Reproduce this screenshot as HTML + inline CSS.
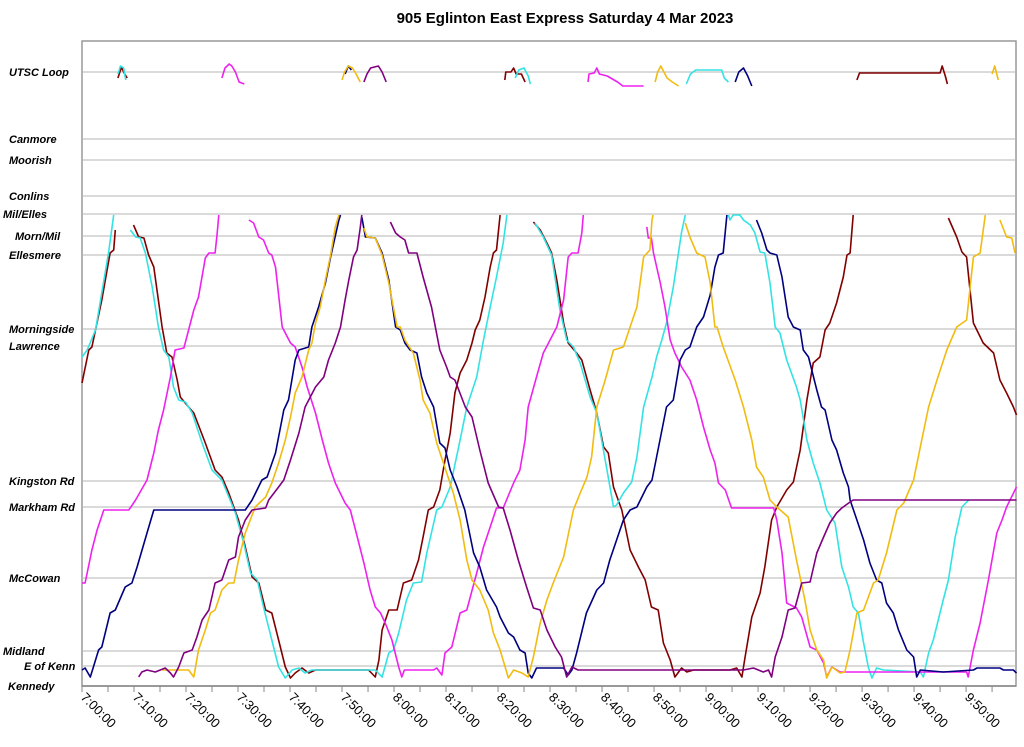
<!DOCTYPE html>
<html><head><meta charset="utf-8"><style>
body{margin:0;background:#fff;}
svg{display:block;font-family:"Liberation Sans",Arial,sans-serif;}
.stop{font-size:11px;font-weight:bold;font-style:italic;fill:#000;}
.tick{font-size:13px;fill:#000;}
</style></head><body>
<svg id="chart" width="1024" height="747">
<text x="565" y="23" text-anchor="middle" font-size="15" font-weight="bold">905 Eglinton East Express Saturday 4 Mar 2023</text>
<g id="grid"></g>
<g id="series"></g>
<g id="axes"></g>
</svg>
<script>
const stopNames=["UTSC Loop","Canmore","Moorish","Conlins","Mil/Elles","Morn/Mil","Ellesmere","Morningside","Lawrence","Kingston Rd","Markham Rd","McCowan","Midland","E of Kenn","Kennedy"];
const stopDist=[614,547,526,490,472,450,431,357,340,205,179,108,35,20,0];
const stopLabelX=[9,9,9,9,3,15,9,9,9,9,9,9,3,24,8];
const tickLabels=["7:00:00","7:10:00","7:20:00","7:30:00","7:40:00","7:50:00","8:00:00","8:10:00","8:20:00","8:30:00","8:40:00","8:50:00","9:00:00","9:10:00","9:20:00","9:30:00","9:40:00","9:50:00"];
const busColors=["#800000","#33e3e3","#ee22ee","#000080","#f2bb10","#800080"];

const maroon=[[0,303],[1.3,336],[1.9,339],[2.6,356],[3.8,386],[5.4,433],[6.1,436],[6.4,456],null,
[6.9,608],[7.6,619],[8.1,613],[8.7,608],null,
[9.9,461],[10.9,449],[11.9,448],[12.8,431],[13.8,419],[15.4,359],[16.3,333],[17.3,329],[18.3,306],[18.9,289],[20.5,279],[21.5,273],[23.7,243],[25.6,216],[26.9,209],[28.2,193],[30.1,166],[31.4,139],[32.7,109],[34,103],[35.3,76],[36.5,73],[37.8,46],[39.1,19],[40.1,8],[41,13],[42.3,18],[43.6,13],[44.9,16],[55.1,16],[56.4,9],[57.1,26],[57.7,56],[59,76],[60.6,76],[61.8,103],[63.4,106],[64.7,126],[65.6,149],[66.6,176],[67.6,179],[68.8,196],[69.8,226],[70.8,253],[71.7,293],[72.7,313],[74,326],[75,343],[75.6,356],[76.5,366],[77.5,389],[78.5,419],[79.1,433],[79.7,436],[80.4,471],null,
[81.3,606],[81.5,614],[82.5,614],[83,618],[83.5,612],[84.5,612],[85.2,604],null,
[86.8,464],[88.1,456],[89.4,443],[90.3,433],[91.3,406],[92.6,363],[93.5,343],[95.1,333],[96.1,326],[97.7,296],[99,273],[100.3,239],[101.2,233],[102.2,199],[103.8,176],[105.4,136],[107,119],[108.3,106],[109.5,79],[110.8,76],[111.8,43],[113.1,26],[114,9],[115.3,18],[116.3,14],[117.6,16],[124.6,16],[125.9,18],[126.9,9],[127.5,29],[128.8,69],[130.4,93],[131.3,119],[132.6,166],[133.6,179],[135.5,196],[136.8,204],[138.1,236],[139.4,286],[140.6,323],[141.9,329],[142.9,356],[143.8,363],[145.1,383],[146.4,409],[147.1,431],[147.7,433],[148.3,471],null,
[149,606],[149.5,613],[165,613],[165.4,620],[166,610],[166.4,602],null,
[166.6,468],[168.2,449],[169.2,434],[170.1,429],[171.4,363],[173.3,343],[175.3,333],[176.5,306],[177.8,293],[179.1,279],[179.7,271]];

const cyan=[[0,329],[1,336],[2.6,356],[5.1,433],[6.1,471],null,
[6.9,612],[7.4,620],[8,618],[8.4,606],null,
[9.3,456],[10.3,449],[11.2,448],[12.2,433],[13.5,399],[14.7,359],[15.7,336],[16.7,329],[17.6,299],[18.6,286],[19.9,284],[21.2,273],[23.1,243],[25,216],[26.9,206],[29.5,173],[31.1,143],[32.4,113],[33.7,106],[34.9,79],[36.5,46],[37.8,19],[39.1,8],[40.4,16],[41.7,18],[42.9,13],[44.2,16],[56.4,16],[57.7,9],[59,33],[59.9,36],[60.9,53],[62.4,86],[63.7,103],[65.3,104],[66.3,133],[68.2,176],[69.2,179],[70.8,199],[72.7,246],[74,279],[75.9,309],[77.2,346],[78.5,379],[79.7,409],[81,443],[81.7,471],null,
[83.3,608],[84,616],[85,618],[85.8,610],[86.2,602],null,
[87.1,463],[88.7,449],[90.3,431],[91.9,376],[93.2,346],[94.5,339],[95.8,323],[97.7,289],[99,273],[100.6,226],[102.2,179],[102.8,181],[104.1,193],[105.7,204],[106.7,229],[108,279],[109.6,309],[110.5,329],[111.5,346],[112.4,363],[113.7,399],[115.3,454],[116,471],null,
[116.2,602],[117,612],[118,616],[123,616],[123.5,608],[124.3,604],null,
[124.3,471],[124.6,466],[125.2,471],[126.5,471],[127.2,466],[128.5,461],[129.4,453],[130.4,434],[131.3,433],[132.3,403],[133.3,359],[134.2,353],[135.5,326],[137.4,299],[138.1,286],[139.4,246],[140.6,223],[141.9,203],[143.2,176],[144.8,163],[146.1,119],[147.4,99],[148.3,79],[149.3,73],[150.3,43],[151.2,19],[151.9,8],[152.8,18],[154.1,16],[161.2,14],[161.8,9],[162.8,33],[163.7,46],[165.6,86],[166.6,106],[167.9,149],[169.2,179],[170.5,186]];

const magenta=[[0,103],[0.6,103],[1.9,136],[2.9,156],[4.2,176],[9,176],[10.3,186],[12.5,206],[13.8,233],[14.7,256],[15.7,276],[17,309],[17.9,336],[19.6,338],[20.5,356],[21.5,376],[22.4,389],[23.7,428],[24.4,433],[25.6,433],[26,453],[26.3,471],null,
[26.9,608],[27.5,618],[28.3,622],[28.8,620],[29.5,614],[30.2,604],[31.2,602],null,
[32.1,466],[33,463],[34,449],[34.9,446],[35.9,433],[36.5,431],[37.2,419],[38.5,359],[39.1,353],[40.1,343],[41,339],[42.3,319],[43.3,299],[44.9,273],[46.2,246],[47.4,223],[48.7,203],[50.6,183],[51.6,176],[52.6,156],[54.2,123],[55.4,96],[56.4,79],[57.4,73],[58.3,63],[59.6,46],[60.9,19],[61.5,9],[62,16],[67.6,16],[68.2,18],[69.2,11],[69.8,33],[71.1,39],[72.7,73],[74,76],[75.9,113],[77.2,139],[78.5,159],[79.7,178],[81,178],[83,203],[84.2,216],[85.2,246],[85.8,279],[87.4,309],[88.7,333],[89.7,343],[91.3,359],[92.6,386],[93.5,429],[94.2,433],[95.4,433],[96.1,453],[96.4,471],null,
[97.3,604],[97.5,612],[98.5,613],[99,618],[99.5,612],[101,610],[103,604],[104,600],[108,600],null,
[108.6,459],[108.9,448],[109.5,448],[109.9,433],[111.2,403],[112.1,379],[113.1,346],[114,333],[115.3,319],[116.9,306],[118.2,286],[119.5,259],[120.8,236],[121.7,223],[122.4,203],[123.7,196],[124.9,178],[133,178],[133.6,166],[134.6,133],[135.5,83],[137.4,78],[138.4,69],[140,39],[141.3,36],[142.6,23],[143.2,9],[144.2,19],[145.8,14],[170.1,14],[170.4,9],[171.4,36],[172.7,63],[174.3,106],[175.9,153],[176.9,166],[177.8,179],[179.7,199]];

const navy=[[0,16],[0.6,18],[1.6,9],[2.2,19],[3.2,36],[3.8,39],[5.4,73],[6.4,76],[8.3,99],[9.6,103],[10.6,119],[12.5,153],[13.8,176],[31.4,176],[32.7,186],[34.6,206],[35.6,209],[37.2,233],[38.8,276],[39.7,286],[41,326],[41.7,336],[43.6,339],[44.2,359],[45.5,379],[46.8,403],[47.8,429],[49.4,466],[49.7,471],null,
[50.6,612],[51.2,620],[51.8,616],null,
[53.8,469],[54.5,449],[56.4,448],[57.7,433],[59,406],[60.3,359],[61.2,356],[62.1,343],[63.1,336],[64.4,333],[65.3,309],[66.3,293],[67.6,279],[68.8,243],[69.8,238],[70.8,216],[72.1,199],[73.6,176],[75.3,133],[76.5,119],[77.8,96],[79.7,79],[80.4,69],[82,53],[83,49],[84.2,36],[85.2,33],[85.8,13],[86.5,8],[87.4,18],[92.6,18],[93.5,11],[94.2,16],[95.1,33],[97,73],[99,96],[100.3,103],[101.5,126],[102.8,146],[104.1,166],[105.4,176],[106.7,179],[108.6,199],[109.6,206],[110.5,229],[112.4,279],[113.7,286],[115,326],[116,336],[116.9,339],[118.2,359],[119.5,369],[120.8,391],[121.7,419],[122.4,431],[123.3,433],[124,471],null,
[125.6,604],[126.3,614],[127.2,618],[128,610],[128.8,600],null,
[129.7,466],[130.7,453],[131.7,436],[132.3,433],[133.6,431],[134.6,409],[135.8,369],[136.8,359],[138.1,356],[138.7,336],[139.7,329],[141.3,296],[142.2,279],[142.9,276],[144.2,246],[145.1,236],[146.4,213],[147.4,199],[147.7,186],[149,166],[150.3,146],[151.5,123],[152.8,106],[153.8,103],[154.7,83],[156,73],[157,56],[158.6,36],[159.9,29],[160.5,9],[161.2,16],[165.6,14],[171.4,16],[172.1,18],[176.5,18],[177.2,16],[179.1,16],[179.7,13]];

const gold=[[15.4,16],[20.5,16],[21.5,9],[22.4,36],[23.7,56],[24.7,73],[25.6,76],[26.9,96],[28.2,103],[29.2,103],[30.1,126],[31.4,153],[33.3,179],[35.3,189],[36.5,203],[37.8,223],[39.1,246],[40.1,269],[41,293],[42.3,309],[43.6,336],[44.2,343],[44.9,363],[45.8,379],[46.8,406],[47.8,431],[48.7,459],[49.4,471],null,
[50,606],[50.5,614],[51.2,620],[52,618],[52.7,612],[53.5,604],null,
[54.2,458],[54.8,449],[56.4,448],[57.7,431],[59,403],[60.6,359],[61.2,359],[62.1,346],[63.7,333],[65,306],[65.6,286],[66.9,273],[68.2,243],[69.5,223],[71.4,193],[72.7,166],[74,126],[75,106],[76.5,96],[78.1,76],[79.1,53],[80.4,36],[82,8],[83,16],[84.6,13],[85.8,9],[86.8,29],[88.1,63],[89.4,86],[90.6,103],[92.6,129],[94.5,176],[95.8,193],[97.1,209],[98,229],[99,279],[100.6,306],[102.2,336],[104.1,339],[105.4,359],[106.7,379],[108,429],[109.2,436],[109.6,466],[109.8,471],null,
[110.2,604],[110.7,614],[111.3,620],[111.9,614],[112.5,608],[113.5,604],[114.7,600],null,
[116,463],[116.9,449],[118.2,433],[119.8,429],[120.8,403],[121.7,359],[122.1,359],[123.3,339],[125.6,306],[127.2,279],[128.8,246],[129.7,219],[131,209],[132.3,186],[133.6,179],[135.8,169],[137.4,126],[139,86],[140,56],[141.3,36],[142.6,26],[143.2,8],[144.2,19],[145.8,13],[146.7,14],[147.7,36],[149,73],[150.3,76],[152.2,103],[153.1,106],[154.7,133],[156.7,176],[158,183],[159.9,206],[161.2,239],[162.8,279],[164.4,306],[166.3,336],[168.2,359],[170.1,366],[171.4,429],[172.7,433],[173.7,471],null,
[175,612],[175.5,620],[176.2,606],null,
[176.5,466],[177.8,449],[178.8,448],[179.4,433]];

const purple=[[10.9,9],[11.5,14],[12.5,16],[14.1,14],[16,18],[17,13],[17.6,9],[18.6,19],[19.6,33],[21.2,36],[22.1,49],[23.1,66],[24.4,76],[25.6,103],[26.9,106],[28.2,126],[29.5,129],[30.1,149],[31.4,166],[32.7,176],[35.3,178],[35.9,186],[37.8,199],[38.8,206],[40.1,226],[41.7,253],[42.9,279],[44.9,299],[46.5,309],[47.4,326],[48.7,343],[49.7,359],[50.6,386],[51.3,406],[52.2,429],[52.9,436],[53.5,458],[53.8,471],null,
[54.2,604],[54.8,612],[55.5,618],[57,620],[57.7,614],[58.5,604],null,
[59.3,464],[60.3,453],[61.2,449],[62.1,446],[62.8,433],[64.4,433],[65.6,409],[67.2,379],[68.8,336],[70.1,319],[70.8,309],[71.7,306],[73.7,279],[75,269],[76.5,236],[78.1,203],[80.1,179],[81,178],[82.3,156],[83.9,126],[85.5,99],[86.8,78],[88.1,76],[89.4,56],[91,39],[92.2,29],[93.2,9],[94.2,19],[95.4,16],[127.2,16],[129.1,18],[131,14],[132,16],[132.6,9],[133.3,29],[134.6,49],[135.8,76],[137.1,78],[138.4,103],[140,104],[141.3,133],[142.6,149],[143.8,163],[145.1,173],[146.1,178],[147.7,184],[148.3,186],[179.7,186]];

const X0=82,X1=1016,Y0=686,Y1=41,TMAX=179.6,DMAX=645;
const xs=t=>X0+(t/TMAX)*(X1-X0);
const ys=d=>Y0-(d/DMAX)*(Y0-Y1);
const NS='http://www.w3.org/2000/svg';
function mk(tag,attrs,parent){const e=document.createElementNS(NS,tag);for(const k in attrs)e.setAttribute(k,attrs[k]);parent.appendChild(e);return e;}
const grid=document.getElementById('grid'),axes=document.getElementById('axes'),ser=document.getElementById('series');
mk('rect',{x:X0,y:Y1,width:X1-X0,height:Y0-Y1,fill:'#fff',stroke:'#999','stroke-width':1.5},grid);
stopNames.forEach((n,i)=>{
  const y=ys(stopDist[i]);
  if(stopDist[i]>0){const l=mk('line',{x1:X0,x2:X1,y1:y,y2:y,stroke:'#b4b4b4','stroke-width':1},grid);
  
  }
  const t=mk('text',{x:stopLabelX[i],y:y+4,class:'stop'},axes);t.textContent=n;
  
  
});
mk('line',{x1:X0,x2:X1,y1:Y0,y2:Y0,stroke:'#888','stroke-width':1.5},axes);
for(let m=0;m<=175;m+=5){const x=xs(m);mk('line',{x1:x,x2:x,y1:Y0,y2:Y0+6,stroke:'#888'},axes);}
tickLabels.forEach((s,i)=>{
  const x=xs(i*10);
  const t=mk('text',{x:0,y:0,class:'tick',transform:`translate(${x-2},${Y0+12}) rotate(45)`},axes);
  t.textContent=s;
  
  
});
const buses=[maroon,cyan,magenta,navy,gold,purple];
const busNames=['maroon','cyan','magenta','navy','gold','purple'];
buses.forEach((pts,bi)=>{
  let d='',pen=false;
  pts.forEach(p=>{if(!p){pen=false;return;}d+=(pen?'L':'M')+xs(p[0]).toFixed(1)+' '+ys(p[1]).toFixed(1);pen=true;});
  const path=mk('path',{d:d,fill:'none',stroke:busColors[bi],'stroke-width':1.6,'stroke-linejoin':'round'},ser);
  
  
});
</script>
</body></html>
